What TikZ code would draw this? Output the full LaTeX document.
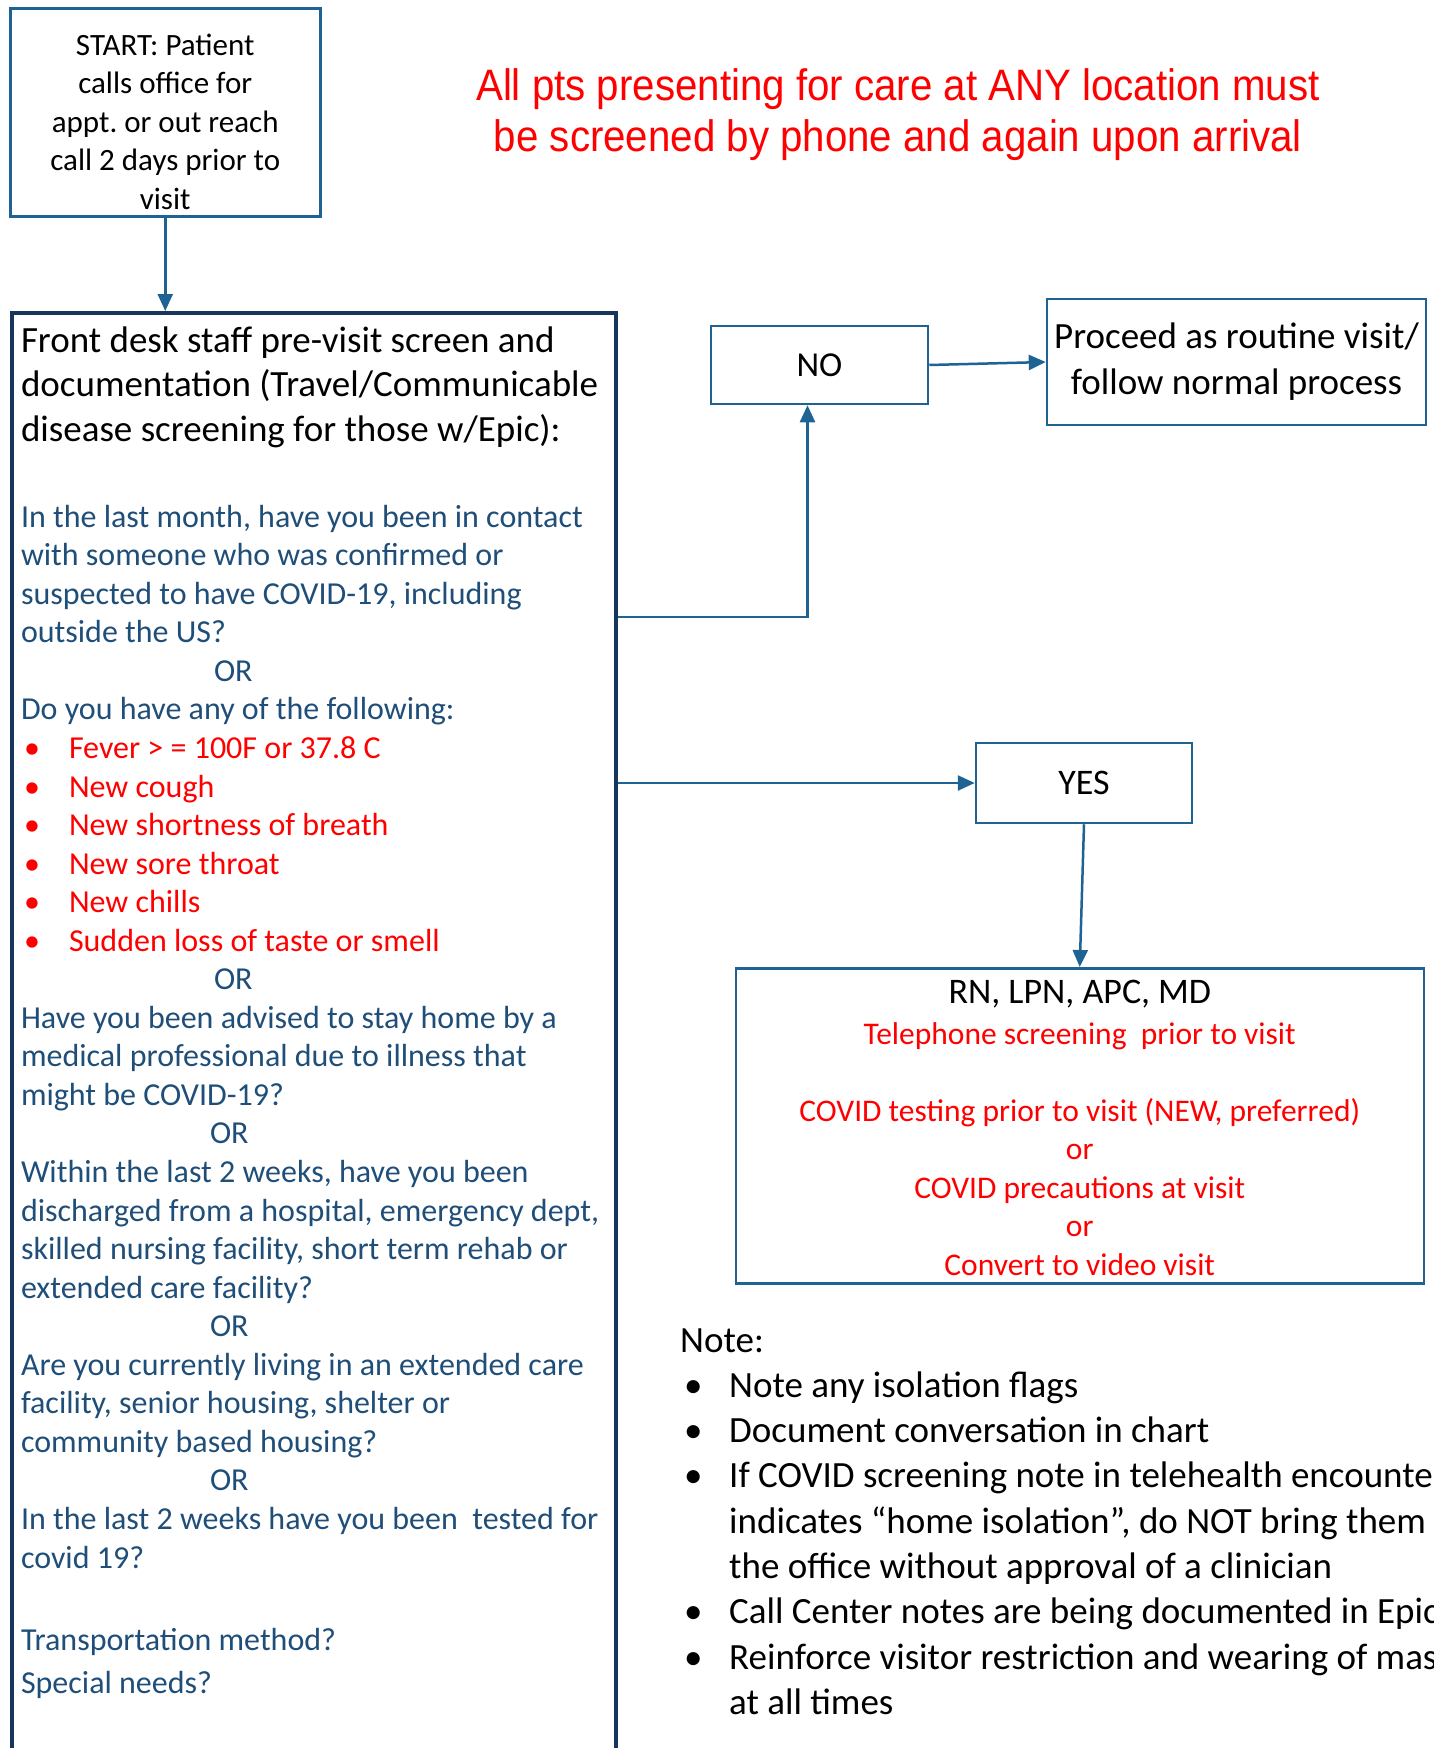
\documentclass[tikz,border=0pt]{standalone}
\usepackage{fontspec}
\setmainfont{Carlito}
\newfontfamily\bannerfont[FakeStretch=0.915]{Liberation Sans}
\usetikzlibrary{calc, positioning, arrows.meta}
\definecolor{flowblue}{HTML}{1F6394}
\definecolor{framenavy}{HTML}{17365D}
\definecolor{askblue}{HTML}{1F4E79}
\definecolor{alertred}{HTML}{FF0000}
\setlength{\parindent}{0pt}
\newcommand{\natgap}{\spaceskip=0pt\xspaceskip=0pt\frenchspacing}
\newcommand{\midgap}{\natgap\leftskip=0pt plus 1fil\rightskip=0pt plus 1fil\parfillskip=0pt}
\newcommand{\redpt}{\makebox[48pt][l]{\hspace{3pt}\textcolor{alertred}{•}}}
\newcommand{\notept}{\makebox[49pt][l]{\hspace{4pt}•}}

\begin{document}
\begin{tikzpicture}[x=1pt, y=-1pt, >={Triangle[length=17pt, width=15pt]},
  box/.style={draw=flowblue, line width=2.5pt, inner sep=0pt, align=center},
  link/.style={->, draw=flowblue, line width=2.5pt}]
  \useasboundingbox (0,0) rectangle (1434,1748);

  % Start box
  \node[box, anchor=north west, text width=310pt, font=\fontsize{31}{38.5}\selectfont] (start) at (9,7)
    {\midgap\rule{0pt}{47pt}START: Patient\\calls office for\\appt. or out reach\\call 2 days prior to\\visit\rule[-7pt]{0pt}{0pt}\par};

  % Banner
  \node[font=\bannerfont\fontsize{44}{51}\selectfont, text=alertred, align=center] (banner) at (898,114.5)
    {All pts presenting for care at ANY location must\\be screened by phone and again upon arrival};

  % Front desk screening
  \node[draw=framenavy, line width=4pt, anchor=north west, text width=586pt, inner xsep=9pt, inner ysep=0pt, align=left,
        font=\fontsize{37}{44.6}\selectfont] (screen) at (10,311) {%
    \natgap
    \rule{0pt}{39pt}Front desk staff pre-visit screen and\\
    documentation (Travel/Communicable\\
    disease screening for those w/Epic):\par
    \vspace{47.4pt}%
    \fontsize{32}{38.55}\selectfont\color{askblue}%
    In the last month, have you been in contact\\
    with someone who was confirmed or\\
    suspected to have COVID-19, including\\
    outside the US?\\
    \hspace*{193pt}OR\\
    Do you have any of the following:\\
    \redpt\textcolor{alertred}{Fever > = 100F or 37.8 C}\\
    \redpt\textcolor{alertred}{New cough}\\
    \redpt\textcolor{alertred}{New shortness of breath}\\
    \redpt\textcolor{alertred}{New sore throat}\\
    \redpt\textcolor{alertred}{New chills}\\
    \redpt\textcolor{alertred}{Sudden loss of taste or smell}\\
    \hspace*{193pt}OR\\
    Have you been advised to stay home by a\\
    medical professional due to illness that\\
    might be COVID-19?\\
    \hspace*{189pt}OR\\
    Within the last 2 weeks, have you been\\
    discharged from a hospital, emergency dept,\\
    skilled nursing facility, short term rehab or\\
    extended care facility?\\
    \hspace*{189pt}OR\\
    Are you currently living in an extended care\\
    facility, senior housing, shelter or\\
    community based housing?\\
    \hspace*{189pt}OR\\
    In the last 2 weeks have you been~ tested for\\
    covid 19?\par
    \vspace{43.5pt}%
    Transportation method?\par
    \vspace{5pt}%
    Special needs?\rule[-100pt]{0pt}{0pt}\par};

  % Answers
  \node[box, minimum width=217pt, minimum height=78pt, font=\fontsize{35}{42}\selectfont] (no) at (819.5,365) {NO};
  \node[box, minimum width=379pt, minimum height=126pt, font=\fontsize{37}{46}\selectfont, right=116.5pt of no, yshift=3pt] (proceed)
    {\natgap Proceed as routine visit/\\follow normal process};
  \node[box, minimum width=216pt, minimum height=80pt, font=\fontsize{36}{42}\selectfont] (yes) at (1084,783) {YES};

  % Clinical staff
  \node[box, anchor=north west, text width=688pt, font=\fontsize{31.5}{38.5}\selectfont, text=alertred] (rn) at (734.5,967) {%
    \midgap
    {\color{black}\fontsize{36}{42}\selectfont\rule{0pt}{35pt}RN, LPN, APC, MD\par}%
    \vspace{2.5pt}%
    Telephone screening~ prior to visit\\[38.5pt]
    COVID testing prior to visit (NEW, preferred)\\
    or\\
    COVID precautions at visit\\
    or\\
    Convert to video visit\rule[-8pt]{0pt}{0pt}\par};

  % Note
  \node[anchor=base west, text width=900pt, align=left, inner sep=0pt, font=\fontsize{37}{45.3}\selectfont] (note) at (680,1352) {%
    \natgap
    Note:\\
    \notept Note any isolation flags\\
    \notept Document conversation in chart\\
    \notept If COVID screening note in telehealth encounter\\
    \hspace*{49pt}indicates “home isolation”, do NOT bring them to\\
    \hspace*{49pt}the office without approval of a clinician\\
    \notept Call Center notes are being documented in Epic\\
    \notept Reinforce visitor restriction and wearing of masks\\
    \hspace*{49pt}at all times};

  % Connections
  \draw[link] (start.south) -- (start.south |- screen.north);
  \draw[link] ($(screen.north east)+(0,306)$) -| ([xshift=-12pt]no.south);
  \draw[link] (screen.east |- yes.west) -- (yes.west);
  \draw[link] (no.east) -- (proceed.west);
  \draw[link] (yes.south) -- (rn.north);
\end{tikzpicture}
\end{document}
